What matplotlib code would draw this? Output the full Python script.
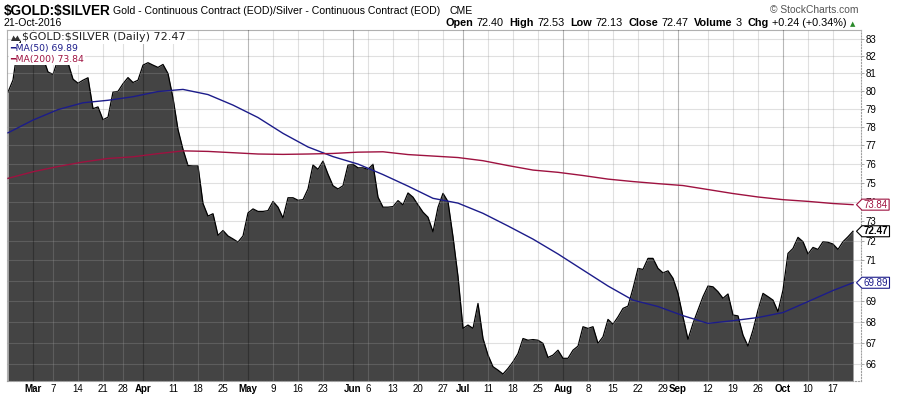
import matplotlib
matplotlib.use("Agg")
import matplotlib.pyplot as plt
import pandas as pd
from matplotlib.path import Path
from matplotlib.patches import Polygon

# ---- data ----
holidays = ["2016-03-25", "2016-05-30", "2016-07-04", "2016-09-05"]
dates = pd.bdate_range("2016-02-23", "2016-10-21")
dates = dates[~dates.isin(pd.to_datetime(holidays))]

ratio = [79.93, 80.61, 82.6, 83.0, 82.8, 82.4, 82.2, 81.9, 81.07, 80.93,
         81.8, 82.0, 81.6, 80.66, 80.43, 80.6, 80.74, 79.0, 79.1, 78.39,
         78.53, 79.93, 79.97, 80.4, 80.75, 80.47, 80.6, 81.46, 81.6, 81.46,
         81.33, 81.5, 80.98, 79.6, 77.85, 76.77, 75.9, 75.88, 75.88, 73.9,
         73.25, 73.37, 72.26, 72.51, 72.23, 72.08, 71.92, 72.23, 73.41, 73.62,
         73.49, 73.49, 73.53, 74.01, 73.71, 73.15, 74.2, 74.2, 74.07, 74.1,
         74.66, 75.93, 75.7, 76.14, 75.44, 74.83, 74.66, 74.83, 75.93, 75.97,
         75.78, 75.78, 75.7, 75.97, 74.23, 73.71, 73.71, 73.74, 74.05, 73.83,
         74.45, 74.23, 73.83, 73.45, 73.19, 72.44, 73.7, 74.43, 74.0, 72.19,
         70.2, 67.68, 67.84, 67.68, 68.88, 67.2, 66.42, 65.88, 65.72, 65.54,
         65.8, 66.11, 66.49, 67.2, 67.12, 67.15, 67.12, 66.97, 66.31, 66.42,
         66.65, 66.27, 66.27, 66.65, 66.84, 67.76, 67.68, 67.76, 66.97, 67.28,
         68.11, 67.88, 68.23, 68.64, 68.75, 69.61, 70.6, 70.55, 71.1, 71.1,
         70.6, 70.38, 70.48, 70.11, 69.37, 68.23, 67.16, 67.92, 68.56, 69.21,
         69.73, 69.69, 69.45, 69.13, 69.34, 68.32, 68.28, 67.36, 66.84, 67.6,
         68.56, 69.37, 69.21, 69.04, 68.48, 69.53, 71.35, 71.6, 72.16, 71.94,
         71.32, 71.65, 71.55, 71.94, 71.91, 71.82, 71.55, 71.94, 72.19, 72.47]

ma_idx = list(range(0, 170, 5)) + [169]
ma50 = [77.67, 78.37, 78.95, 79.33, 79.47, 79.67, 79.96, 80.08, 79.79, 79.2,
        78.51, 77.64, 76.9, 76.38, 75.98, 75.42, 74.81, 74.17, 73.92, 73.39,
        72.74, 72.07, 71.32, 70.52, 69.73, 69.04, 68.73, 68.29, 67.92, 68.05,
        68.2, 68.44, 68.97, 69.51, 69.89]
ma200 = [75.22, 75.57, 75.85, 76.09, 76.28, 76.37, 76.54, 76.69, 76.66, 76.59,
         76.52, 76.5, 76.52, 76.55, 76.62, 76.64, 76.49, 76.41, 76.33, 76.16,
         75.9, 75.66, 75.54, 75.37, 75.18, 75.05, 74.94, 74.84, 74.63, 74.42,
         74.24, 74.1, 74.01, 73.9, 73.84]

month_ticks = ["2016-03-01", "2016-04-01", "2016-05-02", "2016-06-01",
               "2016-07-01", "2016-08-01", "2016-09-01", "2016-10-03"]
month_labels = ["Mar", "Apr", "May", "Jun", "Jul", "Aug", "Sep", "Oct"]
week_ticks = ["2016-03-07", "2016-03-14", "2016-03-21", "2016-03-28",
              "2016-04-11", "2016-04-18", "2016-04-25", "2016-05-09",
              "2016-05-16", "2016-05-23", "2016-06-06", "2016-06-13",
              "2016-06-20", "2016-06-27", "2016-07-11", "2016-07-18",
              "2016-07-25", "2016-08-08", "2016-08-15", "2016-08-22",
              "2016-08-29", "2016-09-12", "2016-09-19", "2016-09-26",
              "2016-10-10", "2016-10-17"]
y_ticks = list(range(66, 84))

last_close, last_ma50, last_ma200 = 72.47, 69.89, 73.84

NAVY = "#1c1c8a"
MAROON = "#9e1240"
W, H = 898, 397


def px(x, y):
    return x / W, 1 - y / H


def tag(x0, y0, width, height, mutation_size):
    # box with a point on the left, like the price tags on the axis
    x0 -= 1.5
    width += 3
    y0 -= 0.5
    height += 1
    return Path([(x0, y0), (x0 + width, y0), (x0 + width, y0 + height),
                 (x0, y0 + height), (x0 - height / 2, y0 + height / 2),
                 (x0, y0)], closed=True)


plt.rcParams["font.family"] = ["Liberation Sans", "DejaVu Sans"]
plt.rcParams["text.parse_math"] = False
fig = plt.figure(figsize=(W / 100, H / 100), dpi=100)
ax = fig.add_axes([7 / W, 1 - 381 / H, 854 / W, 351 / H])

x = list(range(len(ratio)))
ax.set_yscale("log")
ymin, ymax = 65.22, 83.5
ax.fill_between(x, ratio, ymin, color="#444444", lw=0, zorder=1)
ax.plot(x, ratio, color="black", lw=0.9, zorder=2)
ax.plot(ma_idx, ma50, color=NAVY, lw=1.0, zorder=4)
ax.plot(ma_idx, ma200, color=MAROON, lw=1.0, zorder=4)
ax.set_ylim(ymin, ymax)
ax.set_xlim(-0.2, 170.6)

# grid
for v in y_ticks:
    ax.axhline(v, color="#999999", alpha=0.3, lw=0.8, zorder=3)
pos = {d: i for i, d in enumerate(dates.strftime("%Y-%m-%d"))}
wk_pos = [pos[d] for d in week_ticks]
mo_pos = [pos[d] for d in month_ticks]
for p in wk_pos:
    ax.axvline(p, color="#999999", alpha=0.3, lw=0.8, zorder=3)
for p in mo_pos:
    ax.axvline(p, color="black", alpha=0.28, lw=0.8, zorder=3)

# axes
ax.yaxis.tick_right()
ax.set_yticks(y_ticks)
# 70 sits under the MA(50) tag in the original
ax.set_yticklabels(["" if v == 70 else str(v) for v in y_ticks])
ax.yaxis.set_minor_locator(matplotlib.ticker.NullLocator())
ax.tick_params(axis="y", which="major", length=2, width=0.6, color="#999999",
               labelsize=7, pad=1.5)
ax.set_xticks(mo_pos + wk_pos)
ax.set_xticklabels(month_labels + [d[-2:].lstrip("0") for d in week_ticks])
ax.tick_params(axis="x", length=0, labelsize=7, pad=2)
for lbl in ax.get_xticklabels()[:len(month_labels)]:
    lbl.set_fontweight("bold")
for s in ["top", "left"]:
    ax.spines[s].set_color("#b0b0b0")
    ax.spines[s].set_linewidth(0.8)
for s in ["right", "bottom"]:
    ax.spines[s].set_color("#a0a0a0")
    ax.spines[s].set_linestyle(":")
    ax.spines[s].set_linewidth(0.8)

# price tags on the right axis
ytr = ax.get_yaxis_transform()
tx = 1 + 2.5 / 854
ax.text(tx, last_ma200, f"{last_ma200:.2f}", transform=ytr, va="center",
        ha="left", fontsize=7, color=MAROON, clip_on=False, zorder=10,
        bbox=dict(boxstyle=tag, fc="white", ec=MAROON, lw=0.8))
ax.text(tx, last_close, f"{last_close:.2f}", transform=ytr, va="center",
        ha="left", fontsize=7, color="black", fontweight="bold",
        clip_on=False, zorder=10,
        bbox=dict(boxstyle=tag, fc="white", ec="black", lw=0.8))
ax.text(tx, last_ma50, f"{last_ma50:.2f}", transform=ytr, va="center",
        ha="left", fontsize=7, color=NAVY, clip_on=False, zorder=10,
        bbox=dict(boxstyle=tag, fc="white", ec=NAVY, lw=0.8))

# legend inside the plot
fig.text(*px(22, 40.5), f"$GOLD:$SILVER (Daily) {last_close:.2f}",
         fontsize=8, family="DejaVu Sans", color="#222222", va="baseline",
         bbox=dict(fc="white", ec="none", pad=1.0))
fig.add_artist(Polygon([px(11, 41), px(13.5, 35.5), px(15.5, 38.5),
                        px(17.5, 35.5), px(20.5, 41)], closed=True,
                       fc="#333333", ec="none", transform=fig.transFigure))
fig.text(*px(10, 51.5), f"\u2501MA(50) {last_ma50:.2f}", fontsize=6.7,
         family="DejaVu Sans", color=NAVY, va="baseline",
         bbox=dict(fc="white", ec="none", pad=0.9))
fig.text(*px(10, 61.8), f"\u2501MA(200) {last_ma200:.2f}", fontsize=6.7,
         family="DejaVu Sans", color=MAROON, va="baseline",
         bbox=dict(fc="white", ec="none", pad=0.9))

# header
fig.text(*px(4, 15), "$GOLD:$SILVER", fontsize=9.8, fontweight="bold",
         va="baseline")
fig.text(*px(113, 14), "Gold - Continuous Contract (EOD)/Silver - Continuous Contract (EOD)",
         fontsize=7.6, va="baseline")
fig.text(*px(450, 14), "CME", fontsize=7.6, va="baseline")
fig.text(*px(4, 26.5), "21-Oct-2016", fontsize=7.6, va="baseline")
fig.text(*px(859, 13), "\u00a9 StockCharts.com", fontsize=7.4, color="#555555",
         ha="right", va="baseline")

pieces = [("Open", True), ("72.40", False), ("High", True), ("72.53", False),
          ("Low", True), ("72.13", False), ("Close", True), ("72.47", False),
          ("Volume", True), ("3", False), ("Chg", True),
          ("+0.24 (+0.34%)", False)]
renderer = fig.canvas.get_renderer()
cx = 446
for txt, bold in pieces:
    t = fig.text(*px(cx, 26.5), txt, fontsize=7.8, va="baseline",
                 fontweight="bold" if bold else "normal")
    w = t.get_window_extent(renderer).width
    cx += w + (3 if bold else 6)
fig.text(*px(cx - 3, 26.5), "\u25b2", fontsize=5, family="DejaVu Sans",
         color="#2a8a2a", va="baseline")

fig.savefig("out.png", dpi=100)
